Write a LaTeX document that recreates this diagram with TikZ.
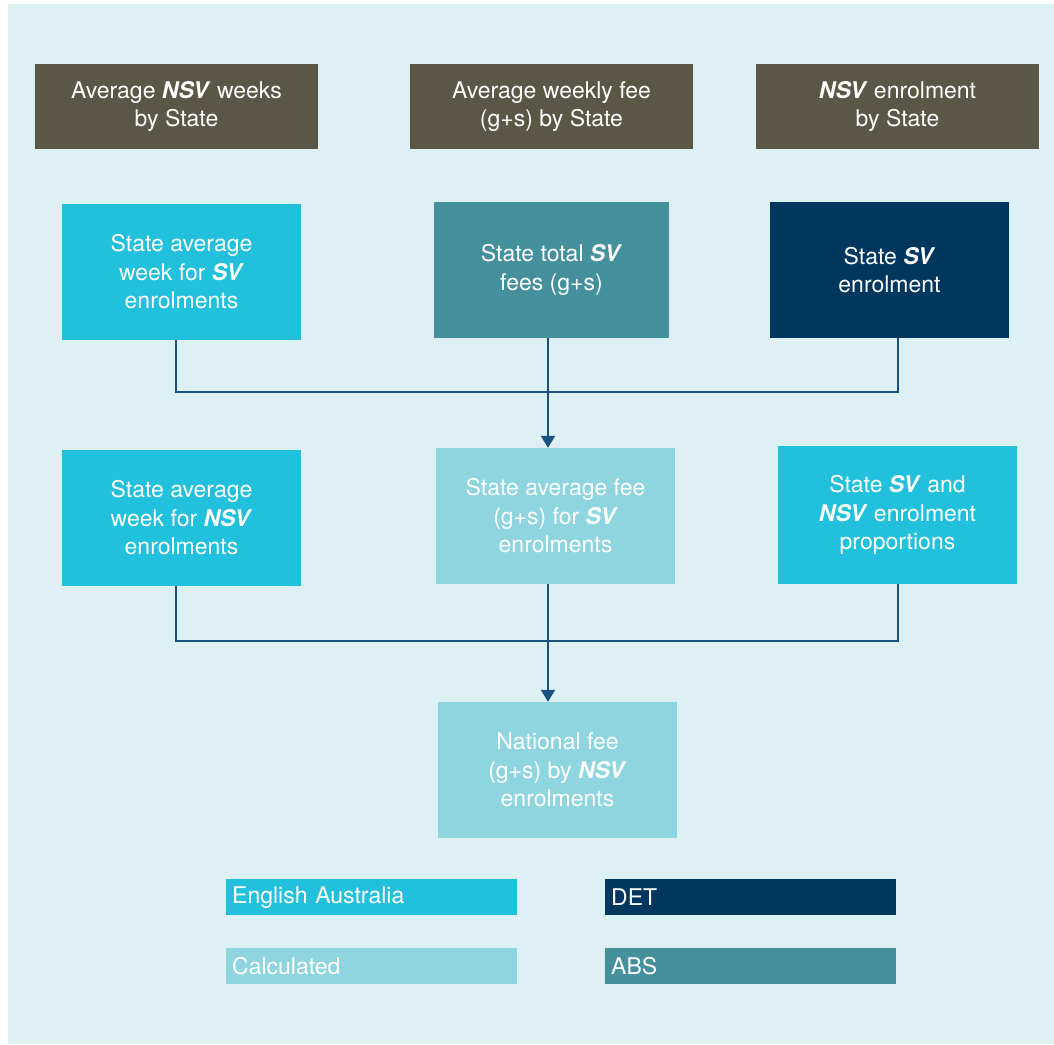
\documentclass[tikz,border=0pt]{standalone}
\usepackage{fontspec}
\setmainfont{TeX Gyre Heros}
\usetikzlibrary{arrows.meta}
\definecolor{bgc}{RGB}{221,240,244}
\definecolor{olive}{RGB}{90,87,71}
\definecolor{cyanb}{RGB}{33,192,220}
\definecolor{tealb}{RGB}{69,144,157}
\definecolor{navyb}{RGB}{0,55,94}
\definecolor{calcb}{RGB}{143,213,224}
\definecolor{linec}{RGB}{25,82,128}
\newcommand{\bi}[1]{\textbf{\textit{#1}}}
\tikzset{
  box/.style={rectangle, inner sep=0pt, text=white, align=center,
    font=\fontsize{23}{28.5}\selectfont, minimum width=239pt, minimum height=136pt},
  topbox/.style={box, fill=olive, minimum width=283pt, minimum height=85pt},
  legbox/.style={rectangle, inner xsep=6pt, inner ysep=0pt, text=white, anchor=north west,
    font=\fontsize{23}{26}\selectfont, minimum width=291pt, minimum height=36pt,
    text width=279pt, align=left},
  conn/.style={draw=linec, line width=2pt},
  arr/.style={conn, -{Triangle[width=14pt,length=12pt]}}
}
\begin{document}
\begin{tikzpicture}[x=1pt,y=-1pt]
\useasboundingbox (0,0) rectangle (1054,1044);
\fill[bgc] (8,4) rectangle (1054,1044);
% top row
\node[topbox] (a) at (176.5,106.5) {Average \bi{NSV} weeks\\by State};
\node[topbox] (b) at (551.5,106.5) {Average weekly fee\\(g+s) by State};
\node[topbox] (c) at (897.5,106.5) {\bi{NSV} enrolment\\by State};
% second row
\node[box, fill=cyanb] (d) at (181.5,272) {State average\\week for \bi{SV}\\enrolments};
\node[box, fill=tealb, minimum width=235pt] (e) at (551.5,270) {State total \bi{SV}\\fees (g+s)};
\node[box, fill=navyb] (f) at (889.5,270) {State \bi{SV}\\enrolment};
% third row
\node[box, fill=cyanb] (g) at (181.5,518) {State average\\week for \bi{NSV}\\enrolments};
\node[box, fill=calcb] (h) at (555.5,516) {State average fee\\(g+s) for \bi{SV}\\enrolments};
\node[box, fill=cyanb, minimum height=138pt] (i) at (897.5,515) {State \bi{SV} and\\\bi{NSV} enrolment\\proportions};
% bottom
\node[box, fill=calcb] (n) at (557.5,770) {National fee\\(g+s) by \bi{NSV}\\enrolments};
% connectors
\coordinate (j1) at (548,392);
\coordinate (j2) at (548,641);
\draw[conn] (d.south -| 176,0) |- (j1) -| (f.south -| 898,0);
\draw[arr] (e.south -| j1) -- (h.north -| j1);
\draw[conn] (g.south -| 176,0) |- (j2) -| (i.south -| 898,0);
\draw[arr] (h.south -| j2) -- (n.north -| j2);
% legend
\node[legbox, fill=cyanb] (l1) at (226,879) {English Australia};
\node[legbox, fill=navyb] (l2) at (605,879) {DET};
\node[legbox, fill=calcb] (l3) at (226,948) {Calculated};
\node[legbox, fill=tealb] (l4) at (605,948) {ABS};
\end{tikzpicture}
\end{document}
